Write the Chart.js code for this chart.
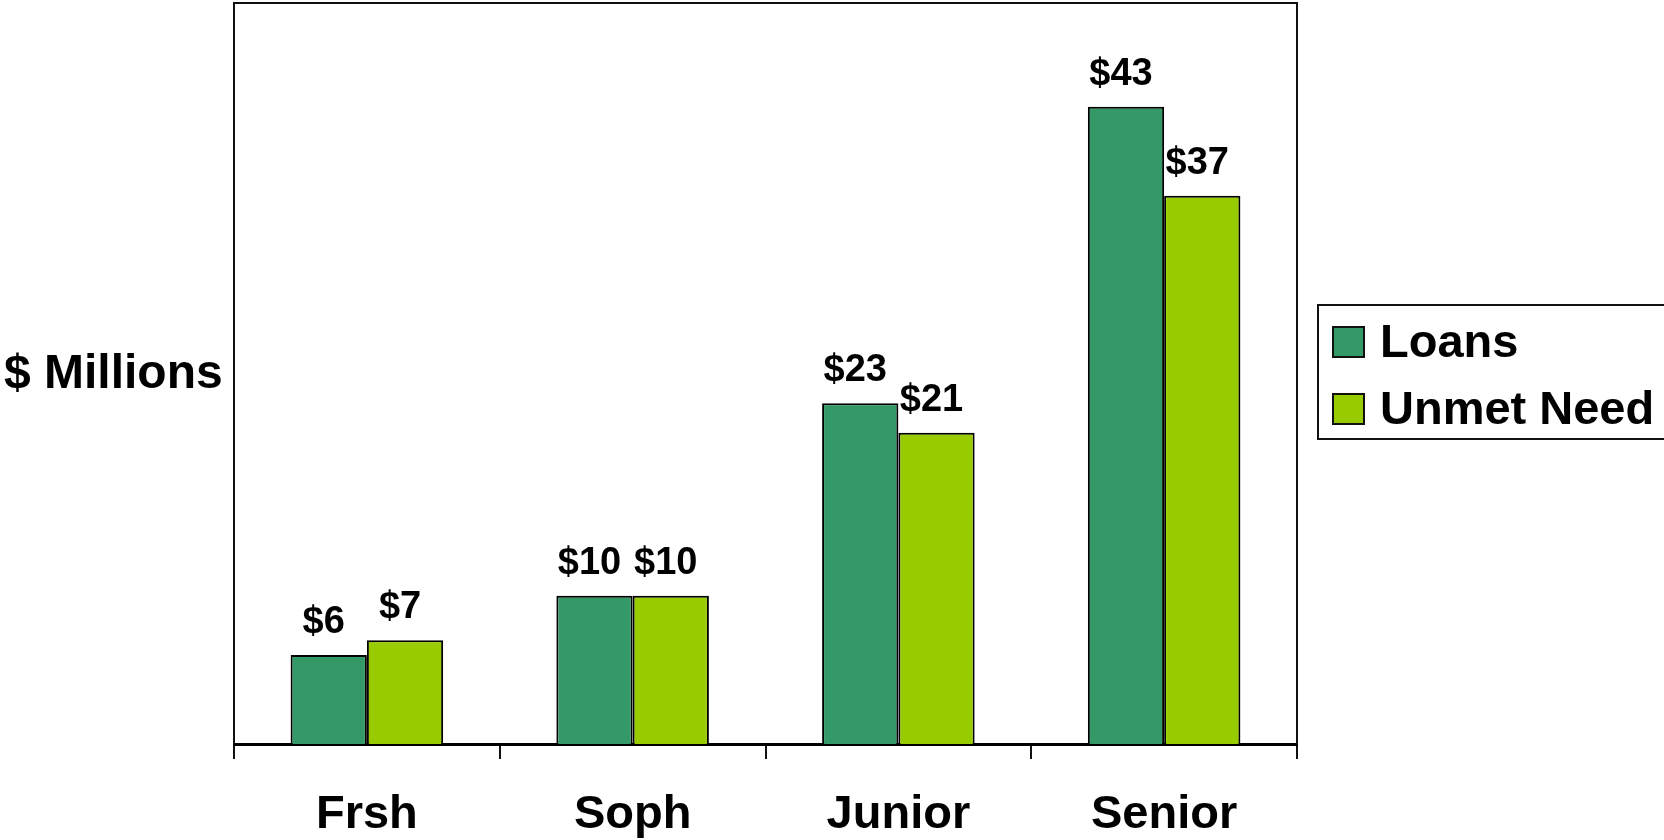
<!DOCTYPE html>
<html>
<head>
<meta charset="utf-8">
<title>Loans and Unmet Need by Class</title>
<script src="https://cdn.jsdelivr.net/npm/chart.js@4.4.0/dist/chart.umd.min.js"></script>
<style>
    html, body { margin: 0; padding: 0; background: #fff; }
    #wrap { width: 1664px; height: 840px; }
</style>
</head>
<body>
<div id="wrap"><canvas id="aidChart" width="1664" height="840"></canvas></div>
<script>
// Chart data
const classes = ['Frsh', 'Soph', 'Junior', 'Senior'];
const loans = [6, 10, 23, 43];
const unmetNeed = [7, 10, 21, 37];
const seriesNames = ['Loans', 'Unmet Need'];
const yAxisTitle = '$ Millions';

const FONT = "'Liberation Sans', Arial, sans-serif";

// Box around the plot area (top, left, right) plus the y title
const framePlugin = {
    id: 'frame',
    afterDraw(chart) {
        const { ctx, chartArea } = chart;
        ctx.save();
        ctx.strokeStyle = '#111';
        ctx.lineWidth = 2;
        ctx.beginPath();
        ctx.moveTo(chartArea.left, chartArea.bottom);
        ctx.lineTo(chartArea.left, chartArea.top);
        ctx.lineTo(chartArea.right, chartArea.top);
        ctx.lineTo(chartArea.right, chartArea.bottom);
        ctx.stroke();

        ctx.fillStyle = '#000';
        ctx.font = 'bold 48px ' + FONT;
        ctx.textAlign = 'left';
        ctx.textBaseline = 'alphabetic';
        ctx.fillText(yAxisTitle, 4, 388);
        ctx.restore();
    }
};

// "$n" labels above each bar
const valueLabels = {
    id: 'valueLabels',
    afterDatasetsDraw(chart) {
        const { ctx } = chart;
        ctx.save();
        ctx.fillStyle = '#000';
        ctx.font = 'bold 38px ' + FONT;
        ctx.textAlign = 'center';
        ctx.textBaseline = 'alphabetic';
        chart.data.datasets.forEach((ds, i) => {
            chart.getDatasetMeta(i).data.forEach((bar, j) => {
                ctx.fillText('$' + ds.data[j], bar.x - 5, bar.y - 22);
            });
        });
        ctx.restore();
    }
};

// Boxed legend on the right, running off the edge like the original
const boxLegend = {
    id: 'boxLegend',
    afterDraw(chart) {
        const { ctx } = chart;
        const left = 1318, top = 305, rowH = 67;
        ctx.save();
        ctx.strokeStyle = '#111';
        ctx.lineWidth = 2;
        ctx.strokeRect(left, top, 420, 134);
        ctx.font = 'bold 47px ' + FONT;
        ctx.textAlign = 'left';
        ctx.textBaseline = 'middle';
        chart.data.datasets.forEach((ds, i) => {
            const cy = top + 37 + i * rowH;
            ctx.fillStyle = ds.backgroundColor;
            ctx.fillRect(left + 15, cy - 15, 31, 30);
            ctx.lineWidth = 2;
            ctx.strokeRect(left + 15, cy - 15, 31, 30);
            ctx.fillStyle = '#000';
            ctx.fillText(ds.label, left + 62, cy + 2);
        });
        ctx.restore();
    }
};

function initChart() {
    const ctx = document.getElementById('aidChart').getContext('2d');
    new Chart(ctx, {
        type: 'bar',
        data: {
            labels: classes,
            datasets: [{
                label: seriesNames[0],
                data: loans,
                backgroundColor: '#339966',
                borderColor: '#000',
                borderWidth: 2
            }, {
                label: seriesNames[1],
                data: unmetNeed,
                backgroundColor: '#99cc00',
                borderColor: '#000',
                borderWidth: 2
            }]
        },
        options: {
            responsive: false,
            animation: false,
            events: [],
            layout: {
                padding: { left: 234, right: 367, top: 3, bottom: 0 }
            },
            datasets: {
                bar: { categoryPercentage: 0.574, barPercentage: 1.0 }
            },
            plugins: {
                legend: { display: false },
                tooltip: { enabled: false }
            },
            scales: {
                x: {
                    grid: {
                        display: true,
                        drawOnChartArea: false,
                        drawTicks: true,
                        tickLength: 15,
                        color: '#111',
                        lineWidth: 2
                    },
                    border: { display: true, color: '#000', width: 3 },
                    ticks: {
                        color: '#000',
                        padding: 28,
                        font: { family: FONT, size: 47, weight: 'bold' }
                    },
                    afterFit(scale) {
                        scale.height = 96;
                    }
                },
                y: {
                    display: false,
                    min: 0,
                    max: 50
                }
            }
        },
        plugins: [framePlugin, valueLabels, boxLegend]
    });
}

document.addEventListener('DOMContentLoaded', function () {
    initChart();
});
</script>
</body>
</html>
